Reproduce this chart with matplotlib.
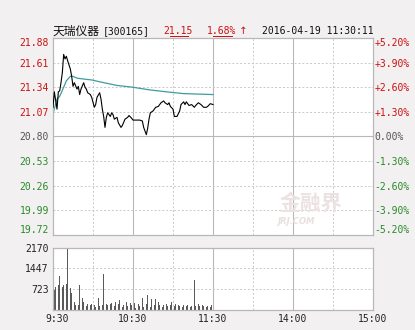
import numpy as np
import matplotlib.pyplot as plt
import matplotlib.transforms as mtransforms

# ---- data (minutes after 9:30, trading-time axis 0..240) ----
price_minutes = [0, 1, 3, 4, 5, 6, 7, 8, 9, 10, 11, 13, 14, 15, 16, 18, 19, 20, 21, 23,
                 24, 25, 26, 28, 29, 31, 32, 33, 35, 36, 37, 38, 39, 40, 41, 43, 44, 45, 46, 48,
                 49, 51, 52, 54, 56, 57, 59, 60, 62, 65, 67, 68, 70, 71, 72, 73, 75, 77, 79, 81,
                 83, 84, 86, 87, 88, 90, 91, 93, 95, 96, 98, 99, 100, 102, 104, 106, 107, 109, 111, 113,
                 115, 116, 118, 120]
prices = [21.12, 21.29, 21.10, 21.29, 21.30, 21.39, 21.50, 21.70, 21.65, 21.68,
          21.63, 21.54, 21.46, 21.35, 21.39, 21.32, 21.35, 21.26, 21.32, 21.39,
          21.34, 21.32, 21.28, 21.26, 21.23, 21.12, 21.15, 21.23, 21.28, 21.21,
          21.10, 21.02, 20.90, 21.01, 21.06, 21.02, 21.06, 21.04, 20.99, 21.01,
          20.95, 20.90, 20.92, 20.99, 21.01, 21.03, 21.00, 20.98, 20.98, 20.98,
          20.97, 20.90, 20.82, 20.89, 20.99, 21.06, 21.08, 21.12, 21.13, 21.17,
          21.19, 21.17, 21.15, 21.17, 21.13, 21.10, 21.02, 21.02, 21.08, 21.15,
          21.18, 21.15, 21.18, 21.14, 21.15, 21.12, 21.14, 21.17, 21.15, 21.12,
          21.12, 21.13, 21.16, 21.15]

avg_minutes = [0, 3, 5, 8, 10, 13, 15, 18, 23, 29, 35, 48, 60, 73, 85, 98, 120]
avg_prices = [21.05, 21.21, 21.24, 21.34, 21.41, 21.46, 21.46, 21.44, 21.43, 21.42,
              21.40, 21.36, 21.34, 21.31, 21.29, 21.27, 21.26]

volumes = [771, 688, 807, 629, 866, 1187, 629, 807, 866, 1068, 890, 2148, 866, 748, 570, 297, 273, 154, 190, 154,
           866, 748, 392, 249, 95, 119, 178, 119, 154, 178, 688, 154, 83, 154, 392, 119, 249, 154, 1250, 154,
           202, 154,
           154, 178, 214, 273, 131, 249, 297, 178, 332, 214, 95, 154, 178, 273, 119, 95, 214, 154, 131, 214,
           59, 95, 178, 119, 451, 392, 95, 154, 202, 510, 119, 95, 356, 178, 154, 368, 119, 273, 154,
           131, 95, 154, 119, 178, 131, 214, 154, 249, 273, 119, 178, 95, 154, 119, 131, 95, 154, 178, 119,
           154, 119, 95, 131, 866, 1044, 119, 95, 178, 131, 95, 154, 119, 178, 95, 119, 131, 95, 154, 95]

prev_close = 20.80
price_ticks = [19.72, 19.99, 20.26, 20.53, 20.80, 21.07, 21.34, 21.61, 21.88]
pct_labels = ['-5.20%', '-3.90%', '-2.60%', '-1.30%', '0.00%', '+1.30%', '+2.60%', '+3.90%', '+5.20%']
vol_ticks = [723, 1447, 2170]
time_ticks = [0, 60, 120, 180, 240]
time_labels = ['9:30', '10:30', '11:30', '14:00', '15:00']

RED = '#cc1010'
GREEN = '#2a8a2a'
GRAY = '#555555'
BG = '#f2f0f0'
FRAME = '#b8b8b8'
GRID = '#c8c8c8'
MONO = ['DejaVu Sans Mono', 'DejaVu Sans']

W, H = 415, 330
fig = plt.figure(figsize=(W / 100, H / 100), dpi=100)
fig.set_facecolor(BG)


def box(x0, y0, x1, y1):
    return [x0 / W, 1 - y1 / H, (x1 - x0) / W, (y1 - y0) / H]


ax = fig.add_axes(box(53, 38, 373, 235))
axv = fig.add_axes(box(53, 248, 373, 309.5))

for a in (ax, axv):
    a.set_facecolor('white')
    a.set_xlim(0, 240)
    for s in a.spines.values():
        s.set_color(FRAME)
        s.set_linewidth(0.9)
    a.tick_params(length=0)
    # vertical grid: solid every hour, dashed at half hours
    for m in [30, 90, 150, 210]:
        a.axvline(m, color=GRID, lw=0.7, ls=(0, (2, 2)), zorder=0)
    for m in [60, 120, 180]:
        a.axvline(m, color=FRAME, lw=0.8, zorder=0)

# ---- price panel ----
ax.set_ylim(price_ticks[0], price_ticks[-1])
for t in price_ticks[1:-1]:
    if t == prev_close:
        ax.axhline(t, color=FRAME, lw=0.8, zorder=0)
    else:
        ax.axhline(t, color=GRID, lw=0.7, ls=(0, (2, 2)), zorder=0)

ax.plot(avg_minutes, avg_prices, color='#3f9c9c', lw=0.9, zorder=2)
ax.plot(price_minutes, prices, color='black', lw=0.8, zorder=3)

ax.set_xticks([])
ax.set_yticks(price_ticks)
ax.set_yticklabels([f'{t:.2f}' for t in price_ticks], family=MONO, fontsize=7)
ax.tick_params(axis='y', pad=3)
for t, lab in zip(price_ticks, ax.get_yticklabels()):
    lab.set_color(RED if t > prev_close else (GREEN if t < prev_close else GRAY))
ax.get_yticklabels()[0].set_va('bottom')
ax.get_yticklabels()[-1].set_va('top')

axr = ax.twinx()
axr.set_ylim(ax.get_ylim())
axr.set_yticks(price_ticks)
axr.set_yticklabels(pct_labels, family=MONO, fontsize=7)
axr.tick_params(length=0, pad=1)
for s in axr.spines.values():
    s.set_visible(False)
for t, lab in zip(price_ticks, axr.get_yticklabels()):
    lab.set_color(RED if t > prev_close else (GREEN if t < prev_close else GRAY))
axr.get_yticklabels()[0].set_va('bottom')
axr.get_yticklabels()[-1].set_va('top')

# watermark
ax.text(0.805, 0.16, '金融界', transform=ax.transAxes, family=['Noto Sans CJK SC'],
        fontsize=15, fontweight='bold', color='#ece2e2', ha='center', va='center', zorder=1)
ax.text(0.76, 0.066, 'JRJ.COM', transform=ax.transAxes, fontsize=6, style='italic',
        fontweight='bold', color='#e8dfdf', ha='center', va='center', zorder=1)

# ---- volume panel ----
axv.set_ylim(0, vol_ticks[-1])
for t in vol_ticks[:-1]:
    axv.axhline(t, color=GRID, lw=0.7, ls=(0, (2, 2)), zorder=0)
axv.bar(np.arange(len(volumes)), volumes, width=0.7, color='#5a5a5a', zorder=2)
axv.set_yticks(vol_ticks)
axv.set_yticklabels([str(v) for v in vol_ticks], family=MONO, fontsize=7, color='#222222')
axv.tick_params(axis='y', pad=3)
axv.set_xticks(time_ticks)
axv.set_xticklabels(time_labels, family=MONO, fontsize=7, color='#222222')
axv.tick_params(axis='x', pad=3)
first = axv.get_xticklabels()[0]
first.set_transform(first.get_transform() + mtransforms.ScaledTranslation(4 / 100, 0, fig.dpi_scale_trans))

# ---- header ----
def fx(x):
    return x / W


def fy(y):
    return 1 - y / H


fig.text(fx(53), fy(31), '天瑞仪器', family=['Noto Sans CJK SC'], fontsize=8.5,
         color='#111111', va='center', ha='left')
fig.text(fx(103), fy(31), '[300165]', family=MONO, fontsize=7, color='#111111', va='center')
fig.text(fx(163), fy(31), '21.15', family=MONO, fontsize=7, color=RED, va='center')
fig.text(fx(207), fy(31), '1.68%', family=MONO, fontsize=7, color=RED, va='center')
fig.text(fx(239), fy(31), '↑', family=['DejaVu Sans'], fontsize=7.5, color=RED, va='center')
fig.text(fx(262), fy(31), '2016-04-19 11:30:11', family=MONO, fontsize=7, color='#111111', va='center')
fig.add_artist(plt.Line2D([fx(170), fx(188)], [fy(36), fy(36)], color=RED, lw=0.7))
fig.add_artist(plt.Line2D([fx(213), fx(232)], [fy(36), fy(36)], color=RED, lw=0.7))

fig.savefig('out.png', dpi=100, facecolor=BG)
